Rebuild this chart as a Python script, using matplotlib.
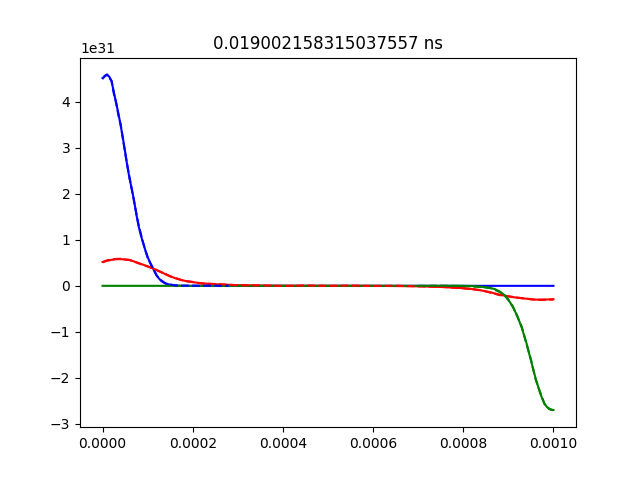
import matplotlib
matplotlib.use("Agg")
import matplotlib.pyplot as plt
import numpy as np

title = "0.019002158315037557 ns"

# x in units of 1e-5, y in units of 1e31
blue_x = [0, 0.5, 1, 1.5, 2, 2.5, 3, 3.5, 4, 4.5, 5, 5.5, 6, 6.5, 7, 7.5, 8, 8.5, 9, 9.5,
          10, 10.5, 11, 11.5, 12, 12.5, 13, 13.5, 14, 15, 16, 17, 18, 20, 30, 100]
blue_y = [4.52, 4.56, 4.59, 4.55, 4.45, 4.22, 3.98, 3.76, 3.50, 3.22, 2.92, 2.60, 2.33,
          2.10, 1.85, 1.55, 1.30, 1.10, 0.93, 0.77, 0.63, 0.51, 0.41, 0.32, 0.23, 0.16,
          0.11, 0.075, 0.05, 0.025, 0.01, 0.004, 0.001, 0.0, 0.0, 0.0]

blue_dx = [0, 0.5, 1, 1.5, 2, 2.5, 3, 3.5, 4, 5, 6, 7, 8, 9, 10, 11, 12, 13, 14, 15, 16,
           18, 20, 22, 24, 26, 28]
blue_dy = [4.50, 4.57, 4.60, 4.53, 4.46, 4.18, 4.00, 3.72, 3.52, 2.90, 2.35, 1.83, 1.32,
           0.94, 0.61, 0.42, 0.22, 0.12, 0.05, 0.03, 0.01, 0.003, 0.004, 0.0, 0.005,
           0.0, 0.003]

red_x = [0, 1, 2, 3, 4, 5, 6, 7, 8, 9, 10, 11, 12, 13, 14, 15, 16, 17, 18, 19, 20, 22,
         25, 30, 35, 40, 50, 60, 65, 70, 75, 78, 80, 82, 84, 86, 88, 90, 92, 94, 96, 98, 100]
red_y = [0.52, 0.545, 0.565, 0.58, 0.58, 0.575, 0.56, 0.53, 0.49, 0.46, 0.42, 0.39, 0.34,
         0.30, 0.25, 0.21, 0.17, 0.14, 0.115, 0.095, 0.08, 0.055, 0.035, 0.015, 0.006,
         0.002, 0.0, 0.0, -0.005, -0.01, -0.025, -0.04, -0.05, -0.07, -0.10, -0.14,
         -0.19, -0.23, -0.26, -0.28, -0.30, -0.30, -0.29]

red_dx = [0, 1, 2, 3, 4, 5, 6, 7, 8, 9, 10, 11, 12, 13, 14, 15, 16, 18, 20, 22, 25, 30,
          35, 40, 45, 50, 55, 60, 65, 70, 75, 80, 84, 88, 92, 96, 100]
red_dy = [0.51, 0.555, 0.575, 0.585, 0.59, 0.57, 0.565, 0.525, 0.495, 0.455, 0.425,
          0.385, 0.345, 0.295, 0.255, 0.205, 0.175, 0.11, 0.085, 0.05, 0.04, 0.012, 0.01,
          -0.003, 0.008, 0.0, 0.006, -0.004, 0.003, -0.012, -0.02, -0.055, -0.095, -0.20,
          -0.255, -0.305, -0.30]

green_x = [0, 80, 82, 84, 86, 87, 88, 89, 90, 91, 92, 93, 94, 95, 96, 97, 97.5, 98, 98.5,
           99, 99.5, 100]
green_y = [0.0, 0.0, -0.005, -0.02, -0.05, -0.07, -0.12, -0.19, -0.30, -0.46, -0.66,
           -0.92, -1.24, -1.62, -2.00, -2.32, -2.45, -2.56, -2.63, -2.675, -2.70, -2.70]

green_dx = [70, 75, 80, 84, 86, 88, 89, 90, 91, 92, 93, 94, 95, 96, 97, 98, 99, 100]
green_dy = [0.0, 0.004, -0.003, -0.025, -0.045, -0.13, -0.18, -0.31, -0.45, -0.67, -0.90,
            -1.26, -1.60, -2.02, -2.30, -2.57, -2.67, -2.71]

sx, sy = 1e-5, 1e31
fig, ax = plt.subplots(figsize=(6.4, 4.8), dpi=100)
ax.plot(np.array(blue_x) * sx, np.array(blue_y) * sy, color='b')
ax.plot(np.array(red_x) * sx, np.array(red_y) * sy, color='r')
ax.plot(np.array(green_x) * sx, np.array(green_y) * sy, color='g')
ax.plot(np.array(red_dx) * sx, np.array(red_dy) * sy, color='r', linestyle='--')
ax.plot(np.array(blue_dx) * sx, np.array(blue_dy) * sy, color='b', linestyle='--')
ax.plot(np.array(green_dx) * sx, np.array(green_dy) * sy, color='g', linestyle='--')
ax.set_title(title)
fig.savefig("out.png", dpi=100)
